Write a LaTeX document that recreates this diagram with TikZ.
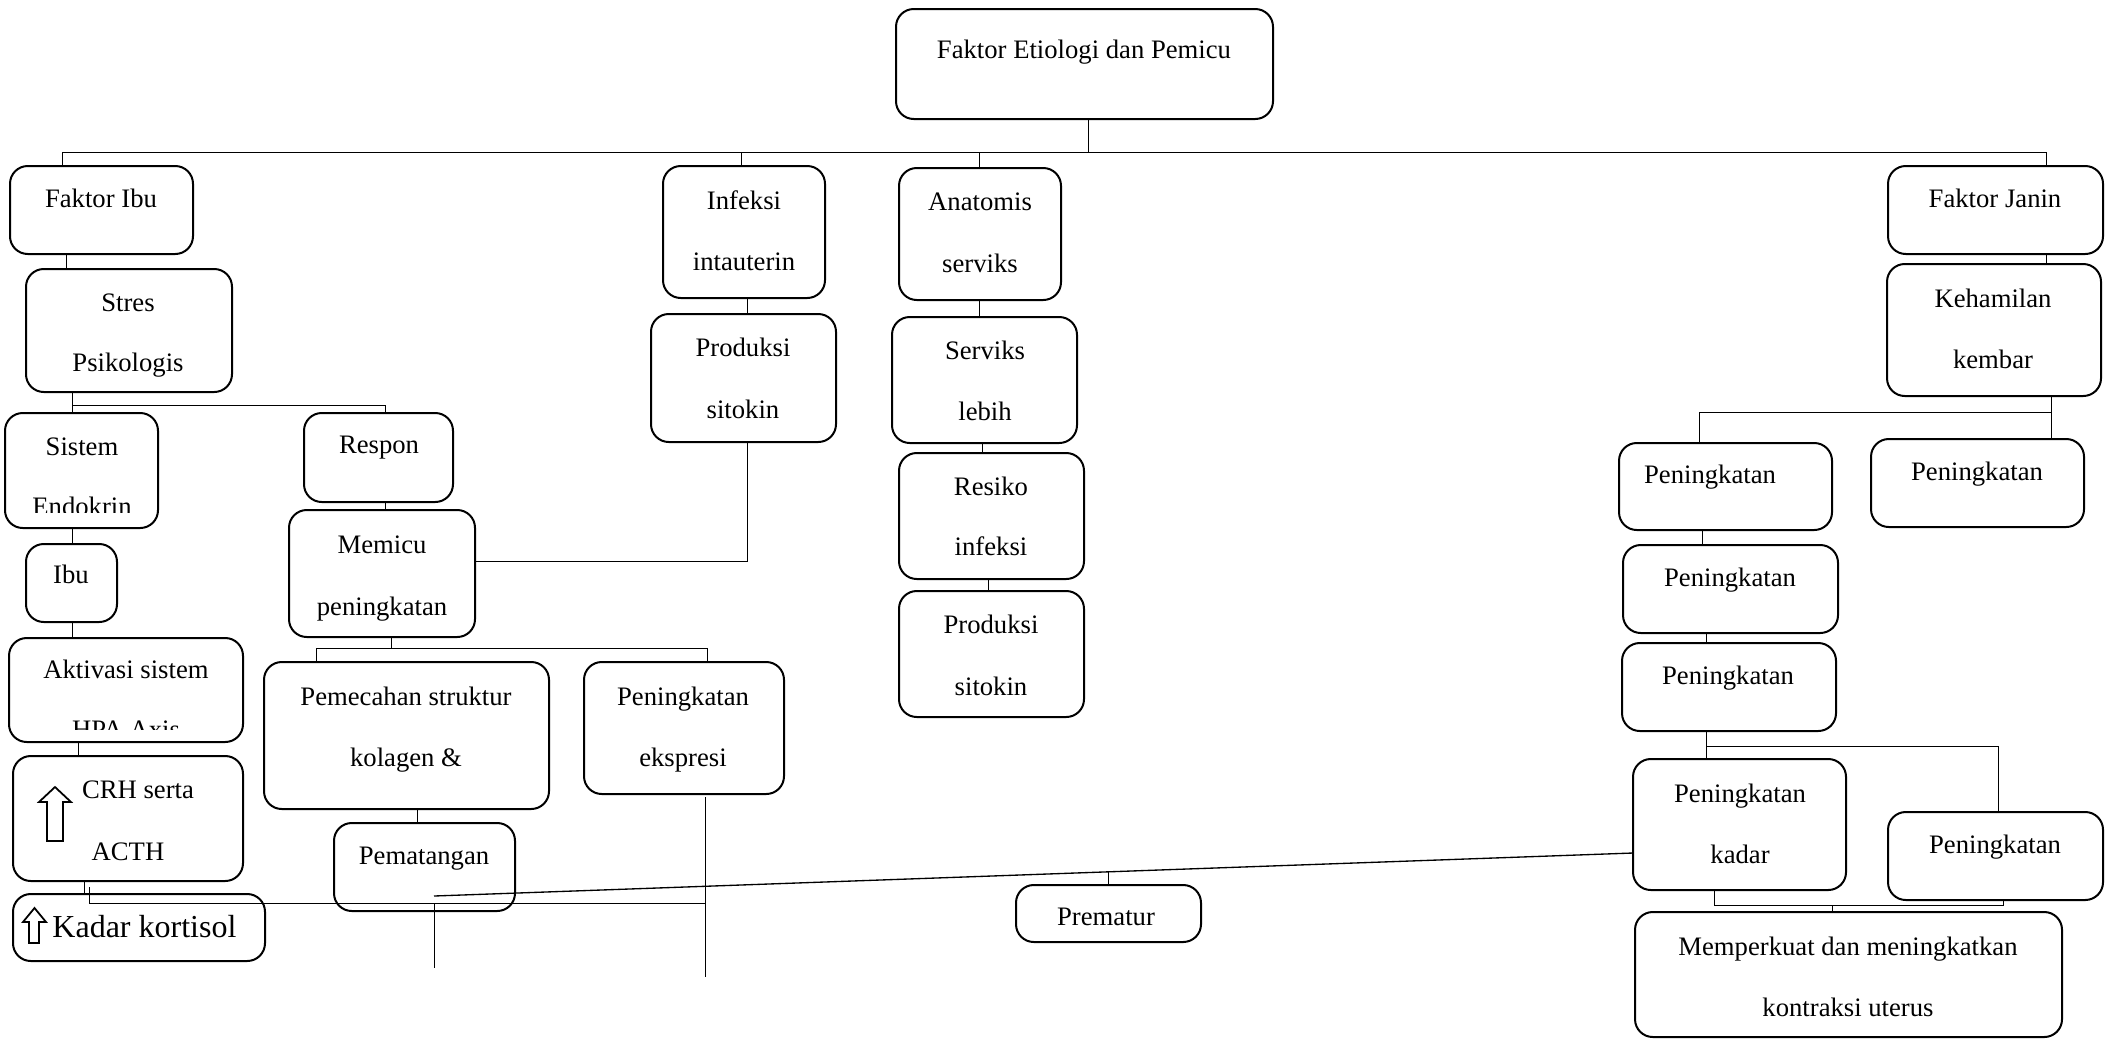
\documentclass[tikz,border=0pt]{standalone}
\usepackage{fontspec}
\setmainfont{Liberation Serif}
\usetikzlibrary{calc}
\tikzset{
  box/.style={draw, line width=0.9pt, rounded corners=8pt, inner sep=0pt, outer sep=0pt},
  txt/.style={anchor=base, inner sep=0pt, font=\fontsize{12}{14}\selectfont},
  conn/.style={draw, line width=0.45pt},
  arrowshape/.style={draw, line width=0.8pt, line join=miter},
}
\newcommand\bx[5]{\node[box, minimum width={(#4-#2)*0.45pt}, minimum height={(#5-#3)*0.45pt}] (#1) at ({(#2+#4)/2},{(#3+#5)/2}) {};}
\begin{document}
\begin{tikzpicture}[x=0.45pt, y=-0.45pt]
\useasboundingbox (0,0) rectangle (2111,1040);
% boxes
\bx{top}{896}{9}{1273}{119}
\bx{fi}{10}{166}{193}{254}
\bx{sp}{26}{269}{232}{392}
\bx{se}{5}{413}{158}{528}
\bx{re}{304}{413}{453}{502}
\bx{me}{289}{510}{475}{637}
\bx{ibu}{26}{544}{117}{622}
\bx{ak}{9}{638}{243}{742}
\bx{crh}{13}{756}{243}{881}
\bx{kk}{13}{894}{265}{961}
\bx{pe}{264}{662}{549}{809}
\bx{ek}{584}{662}{784}{794}
\bx{pm}{334}{823}{515}{911}
\bx{inf}{663}{166}{825}{298}
\bx{ps1}{651}{314}{836}{442}
\bx{ana}{899}{168}{1061}{300}
\bx{sl}{892}{317}{1077}{443}
\bx{ri}{899}{453}{1084}{579}
\bx{ps2}{899}{591}{1084}{717}
\bx{pr}{1016}{885}{1201}{942}
\bx{fj}{1888}{166}{2103}{254}
\bx{kh}{1887}{264}{2101}{396}
\bx{pa}{1619}{443}{1832}{530}
\bx{pb}{1871}{439}{2084}{527}
\bx{pc}{1623}{545}{1838}{633}
\bx{pd}{1622}{643}{1836}{731}
\bx{pk}{1633}{759}{1846}{890}
\bx{pf}{1888}{812}{2103}{900}
\bx{mk}{1635}{912}{2062}{1037}
% texts
\node[txt] (t-top) at (1084,58) {Faktor Etiologi dan Pemicu};
\node[txt] (t-fi) at (101,207) {Faktor Ibu};
\node[txt] (t-sp1) at (128,311) {Stres};
\node[txt] (t-sp2) at (128,371) {Psikologis};
\node[txt] (t-se1) at (82,455) {Sistem};
\begin{scope}
\clip (0,0) rectangle (2111,512);
\node[txt] (t-se2) at (82,515) {Endokrin};
\end{scope}
\node[txt] (t-re) at (379,453) {Respon};
\node[txt] (t-me1) at (382,553) {Memicu};
\node[txt] (t-me2) at (382,615) {peningkatan};
\node[txt] (t-ibu) at (71,583) {Ibu};
\node[txt] (t-ak1) at (126,678) {Aktivasi sistem};
\begin{scope}
\clip (0,0) rectangle (2111,729);
\node[txt] (t-ak2) at (126,738) {HPA Axis};
\end{scope}
\node[txt] (t-crh1) at (138,798) {CRH serta};
\node[txt] (t-crh2) at (128,860) {ACTH};
\node[anchor=base west, inner sep=0pt, font=\fontsize{14.4}{16}\selectfont] (t-kk) at (52,937) {Kadar kortisol};
\node[txt] (t-pe1) at (406,705) {Pemecahan struktur};
\node[txt] (t-pe2) at (406,766) {kolagen \&};
\node[txt] (t-ek1) at (683,705) {Peningkatan};
\node[txt] (t-ek2) at (683,766) {ekspresi};
\node[txt] (t-pm) at (424,864) {Pematangan};
\node[txt] (t-inf1) at (744,209) {Infeksi};
\node[txt] (t-inf2) at (744,270) {intauterin};
\node[txt] (t-ps11) at (743,356) {Produksi};
\node[txt] (t-ps12) at (743,418) {sitokin};
\node[txt] (t-ana1) at (980,210) {Anatomis};
\node[txt] (t-ana2) at (980,272) {serviks};
\node[txt] (t-sl1) at (985,359) {Serviks};
\node[txt] (t-sl2) at (985,420) {lebih};
\node[txt] (t-ri1) at (991,495) {Resiko};
\node[txt] (t-ri2) at (991,555) {infeksi};
\node[txt] (t-ps21) at (991,633) {Produksi};
\node[txt] (t-ps22) at (991,695) {sitokin};
\node[txt] (t-pr) at (1106,925) {Prematur};
\node[txt] (t-fj) at (1995,207) {Faktor Janin};
\node[txt] (t-kh1) at (1993,307) {Kehamilan};
\node[txt] (t-kh2) at (1993,368) {kembar};
\node[txt] (t-pa) at (1710,483) {Peningkatan};
\node[txt] (t-pb) at (1977,480) {Peningkatan};
\node[txt] (t-pc) at (1730,586) {Peningkatan};
\node[txt] (t-pd) at (1728,684) {Peningkatan};
\node[txt] (t-pk1) at (1740,802) {Peningkatan};
\node[txt] (t-pk2) at (1740,863) {kadar};
\node[txt] (t-pf) at (1995,853) {Peningkatan};
\node[txt] (t-mk1) at (1848,955) {Memperkuat dan meningkatkan};
\node[txt] (t-mk2) at (1848,1016) {kontraksi uterus};
% up arrows
\draw[arrowshape] (55,787) -- (71,802) -- (63,802) -- (63,841) -- (47,841) -- (47,802) -- (39,802) -- cycle;
\draw[arrowshape] (34.5,908) -- (46,922) -- (39,922) -- (39,943) -- (29,943) -- (29,922) -- (23,922) -- cycle;
% connectors: top level
\draw[conn] (1088,0 |- top.south) -- (1088,152);
\draw[conn] (62,0 |- fi.north) -- (62,152) -- (2046,152) -- (2046,0 |- fj.north);
\draw[conn] (741,152) -- (741,0 |- inf.north);
\draw[conn] (979,152) -- (979,0 |- ana.north);
% left column
\draw[conn] (66,0 |- fi.south) -- (66,0 |- sp.north);
\draw[conn] (72,0 |- sp.south) -- (72,0 |- se.north);
\draw[conn] (72,405) -- (385,405) -- (385,0 |- re.north);
\draw[conn] (385,0 |- re.south) -- (385,0 |- me.north);
\draw[conn] (747,0 |- ps1.south) -- (747,561) -- (me.east |- 0,561);
\draw[conn] (72,0 |- se.south) -- (72,0 |- ibu.north);
\draw[conn] (72,0 |- ibu.south) -- (72,0 |- ak.north);
\draw[conn] (78,0 |- ak.south) -- (78,0 |- crh.north);
\draw[conn] (84,0 |- crh.south) -- (84,0 |- kk.north);
\coordinate (kfree) at (89,887);
\coordinate (ekfree) at (705,797);
\draw[conn] (kfree) -- (89,903) -- (705,903);
\draw[conn] (ekfree) -- (705,977);
\draw[conn] (391,0 |- me.south) -- (391,648);
\draw[conn] (316,0 |- pe.north) -- (316,648) -- (707,648) -- (707,0 |- ek.north);
\draw[conn] (417,0 |- pe.south) -- (417,0 |- pm.north);
\coordinate (dstart) at (434,896);
\draw[conn] (434,904) -- (434,968);
\draw[conn, line width=0.6pt] (dstart) -- (pk.west |- 0,853);
\draw[conn] (pr.north) -- (pr.north |- 0,872);
% middle
\draw[conn] (747,0 |- inf.south) -- (747,0 |- ps1.north);
\draw[conn] (979,0 |- ana.south) -- (979,0 |- sl.north);
\draw[conn] (982,0 |- sl.south) -- (982,0 |- ri.north);
\draw[conn] (988,0 |- ri.south) -- (988,0 |- ps2.north);
% right
\draw[conn] (2046,0 |- fj.south) -- (2046,0 |- kh.north);
\draw[conn] (2051,0 |- kh.south) -- (2051,0 |- pb.north);
\draw[conn] (2051,412) -- (1699,412) -- (1699,0 |- pa.north);
\draw[conn] (1702,0 |- pa.south) -- (1702,0 |- pc.north);
\draw[conn] (1706,0 |- pc.south) -- (1706,0 |- pd.north);
\draw[conn] (1706,0 |- pd.south) -- (1706,0 |- pk.north);
\draw[conn] (1706,746) -- (1998,746) -- (1998,0 |- pf.north);
\draw[conn] (1714,0 |- pk.south) -- (1714,905) -- (2003,905) -- (2003,0 |- pf.south);
\draw[conn] (1832,905) -- (1832,0 |- mk.north);
\end{tikzpicture}
\end{document}
